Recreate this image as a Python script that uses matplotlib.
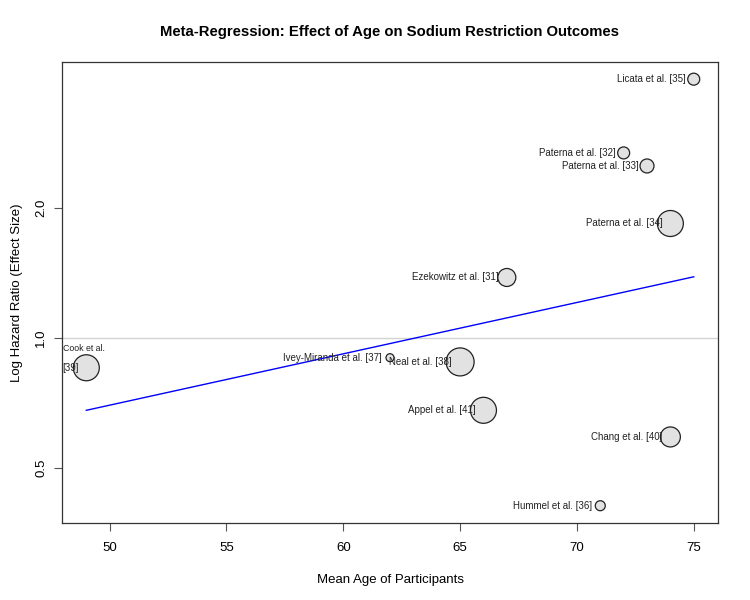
import matplotlib
matplotlib.use("Agg")
import matplotlib.pyplot as plt
import numpy as np

# study data
studies = ["Licata et al. [35]", "Paterna et al. [32]", "Paterna et al. [33]",
           "Paterna et al. [34]", "Ezekowitz et al. [31]", "Cook et al.\n[39]",
           "Ivey-Miranda et al. [37]", "Neal et al. [38]", "Appel et al. [41]",
           "Chang et al. [40]", "Hummel et al. [36]"]
mean_age = [75, 72, 73, 74, 67, 49, 62, 65, 66, 74, 71]
hazard_ratio = [3.97, 2.68, 2.50, 1.84, 1.38, 0.853, 0.90, 0.88, 0.68, 0.59, 0.409]
weights = [36, 36, 49, 169, 81, 169, 16, 196, 169, 100, 25]

# fitted meta-regression line at the age extremes
fit_age = [49, 75]
fit_hr = [0.68, 1.385]

plt.rcParams["font.family"] = ["Liberation Sans", "DejaVu Sans"]

fig = plt.figure(figsize=(7.5, 6), dpi=100)
ax = fig.add_axes([0.08267, 0.12833, 0.8747, 0.7683])

ax.set_yscale("log")
ax.set_xlim(47.96, 76.04)
ax.set_ylim(0.373, 4.35)

ax.axhline(1.0, color="#d3d3d3", linewidth=1, zorder=1)
ax.plot(fit_age, fit_hr, color="blue", linewidth=1, zorder=2)

radius_px = np.sqrt(weights)
sizes = (2 * radius_px * 0.72) ** 2
ax.scatter(mean_age, hazard_ratio, s=sizes, facecolor="#e2e2e2",
           edgecolor="#222222", linewidth=0.9, zorder=3)

for name, x, y in zip(studies, mean_age, hazard_ratio):
    if "\n" in name:
        first, second = name.split("\n")
        ax.annotate(first, (x, y), xytext=(-23, 19), textcoords="offset pixels",
                    ha="left", va="center", fontsize=6.3, color="#222222", zorder=4)
        ax.annotate(second, (x, y), xytext=(-24, 0), textcoords="offset pixels",
                    ha="left", va="center", fontsize=7, color="#222222", zorder=4)
    else:
        ax.annotate(name, (x, y), xytext=(-8, 0), textcoords="offset pixels",
                    ha="right", va="center", fontsize=7, color="#222222", zorder=4)

ax.set_xticks([50, 55, 60, 65, 70, 75])
ax.set_yticks([0.5, 1.0, 2.0])
ax.set_yticklabels(["0.5", "1.0", "2.0"], rotation=90, va="center")
ax.yaxis.set_minor_locator(matplotlib.ticker.NullLocator())
ax.tick_params(axis="both", labelsize=9.5, length=6, width=0.8, color="#555555")
ax.tick_params(axis="x", pad=8)
ax.tick_params(axis="y", pad=4.5)

for spine in ax.spines.values():
    spine.set_linewidth(0.9)
    spine.set_color("#333333")

ax.set_xlabel("Mean Age of Participants", fontsize=9.5, labelpad=14)
ax.set_ylabel("Log Hazard Ratio (Effect Size)", fontsize=9.5)
ax.yaxis.set_label_coords(-0.06, 0.5)
fig.text(0.52, 1 - 32 / 600, "Meta-Regression: Effect of Age on Sodium Restriction Outcomes",
         ha="center", va="center", fontsize=10.7, fontweight="bold")

fig.savefig("out.png", dpi=100)
